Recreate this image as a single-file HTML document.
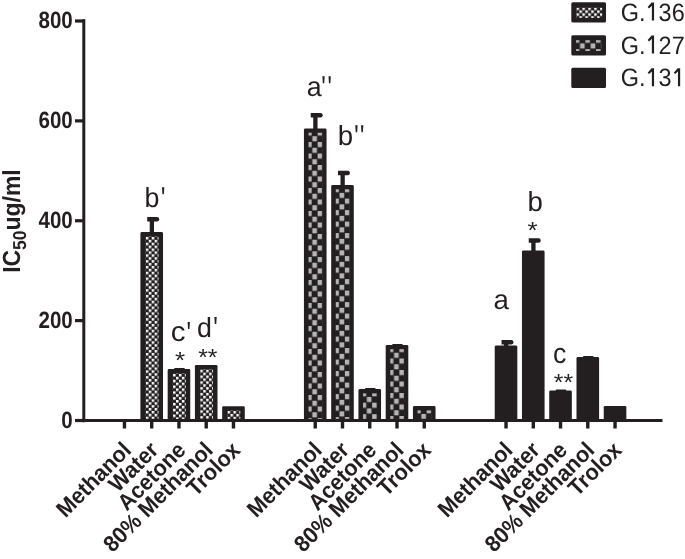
<!DOCTYPE html>
<html><head><meta charset="utf-8"><style>
html,body{margin:0;padding:0;background:#fff;}
body{width:685px;height:559px;overflow:hidden;font-family:"Liberation Sans",sans-serif;}
svg{display:block;will-change:transform;}
text{text-rendering:geometricPrecision;}
</style></head><body>
<svg width="685" height="559" viewBox="0 0 685 559">
<defs>
<pattern id="p136" patternUnits="userSpaceOnUse" width="5.9" height="5.8"><rect width="5.9" height="5.8" fill="#231f20"/><rect x="0" y="0" width="2.5" height="2.5" fill="#fff"/><rect x="2.95" y="2.9" width="2.5" height="2.5" fill="#fff"/></pattern>
<pattern id="p127" patternUnits="userSpaceOnUse" width="10.6" height="11.5"><rect width="10.6" height="11.5" fill="#231f20"/><rect x="0" y="0" width="4.6" height="5.1" fill="#b5b5b5"/><rect x="5.3" y="5.75" width="4.6" height="5.1" fill="#b5b5b5"/></pattern>
</defs>
<rect width="685" height="559" fill="#fff"/>
<rect x="140.41" y="232.10" width="22.60" height="188.40" rx="1.4" fill="#231f20"/>
<g transform="translate(145.81,236.95)"><rect x="-0.20" y="-0.55" width="12.90" height="182.50" fill="url(#p136)"/></g>
<rect x="167.66" y="369.10" width="22.60" height="51.40" rx="1.4" fill="#231f20"/>
<g transform="translate(173.06,373.95)"><rect x="-0.20" y="-0.55" width="12.90" height="45.50" fill="url(#p136)"/></g>
<rect x="194.91" y="364.90" width="22.60" height="55.60" rx="1.4" fill="#231f20"/>
<g transform="translate(200.31,369.75)"><rect x="-0.20" y="-0.55" width="12.90" height="49.70" fill="url(#p136)"/></g>
<rect x="222.17" y="406.20" width="22.60" height="14.30" rx="1.4" fill="#231f20"/>
<g transform="translate(227.57,411.05)"><rect x="-0.20" y="-0.55" width="12.90" height="8.40" fill="url(#p136)"/></g>
<rect x="303.94" y="128.40" width="22.60" height="292.10" rx="1.4" fill="#231f20"/>
<g transform="translate(307.04,130.50)"><rect x="1.50" y="2.20" width="13.80" height="286.20" fill="url(#p127)"/></g>
<rect x="331.19" y="185.00" width="22.60" height="235.50" rx="1.4" fill="#231f20"/>
<g transform="translate(334.29,187.10)"><rect x="1.50" y="2.20" width="13.80" height="229.60" fill="url(#p127)"/></g>
<rect x="358.44" y="389.10" width="22.60" height="31.40" rx="1.4" fill="#231f20"/>
<g transform="translate(361.55,391.20)"><rect x="1.50" y="2.20" width="13.80" height="25.50" fill="url(#p127)"/></g>
<rect x="385.70" y="344.90" width="22.60" height="75.60" rx="1.4" fill="#231f20"/>
<g transform="translate(388.80,347.00)"><rect x="1.50" y="2.20" width="13.80" height="69.70" fill="url(#p127)"/></g>
<rect x="412.95" y="406.10" width="22.60" height="14.40" rx="1.4" fill="#231f20"/>
<g transform="translate(416.06,408.20)"><rect x="1.50" y="2.20" width="13.80" height="8.50" fill="url(#p127)"/></g>
<rect x="494.72" y="345.50" width="22.60" height="75.00" rx="1.4" fill="#231f20"/>
<rect x="521.98" y="250.50" width="22.60" height="170.00" rx="1.4" fill="#231f20"/>
<rect x="549.23" y="390.60" width="22.60" height="29.90" rx="1.4" fill="#231f20"/>
<rect x="576.49" y="357.10" width="22.60" height="63.40" rx="1.4" fill="#231f20"/>
<rect x="603.74" y="405.90" width="22.60" height="14.60" rx="1.4" fill="#231f20"/>
<rect x="149.71" y="218.00" width="4.3" height="15.10" fill="#231f20"/>
<path d="M147.21 217.00 h9.70 a2.25 2.25 0 0 1 0 4.5 h-9.70 z" fill="#231f20"/>
<rect x="313.24" y="114.10" width="4.3" height="15.30" fill="#231f20"/>
<path d="M310.74 113.10 h9.70 a2.25 2.25 0 0 1 0 4.5 h-9.70 z" fill="#231f20"/>
<rect x="340.49" y="171.80" width="4.3" height="14.20" fill="#231f20"/>
<path d="M337.99 170.80 h9.70 a2.25 2.25 0 0 1 0 4.5 h-9.70 z" fill="#231f20"/>
<rect x="504.02" y="341.10" width="4.3" height="5.40" fill="#231f20"/>
<path d="M501.52 340.10 h9.70 a2.25 2.25 0 0 1 0 4.5 h-9.70 z" fill="#231f20"/>
<rect x="531.27" y="239.30" width="4.3" height="12.20" fill="#231f20"/>
<path d="M528.77 238.30 h9.70 a2.25 2.25 0 0 1 0 4.5 h-9.70 z" fill="#231f20"/>
<rect x="174.26" y="367.90" width="10.4" height="2.20" rx="0.6" fill="#231f20"/>
<rect x="365.05" y="387.90" width="10.4" height="2.20" rx="0.6" fill="#231f20"/>
<rect x="392.30" y="343.90" width="10.4" height="2.00" rx="0.6" fill="#231f20"/>
<rect x="555.83" y="389.50" width="10.4" height="2.10" rx="0.6" fill="#231f20"/>
<rect x="583.08" y="356.00" width="10.4" height="2.10" rx="0.6" fill="#231f20"/>
<rect x="82.3" y="19.2" width="3" height="403" fill="#231f20"/>
<rect x="75" y="418.90" width="9" height="3.2" fill="#231f20"/>
<rect x="75" y="319.02" width="9" height="3.2" fill="#231f20"/>
<rect x="75" y="219.15" width="9" height="3.2" fill="#231f20"/>
<rect x="75" y="119.28" width="9" height="3.2" fill="#231f20"/>
<rect x="75" y="19.40" width="9" height="3.2" fill="#231f20"/>
<rect x="75" y="419.00" width="587.5" height="3" fill="#231f20"/>
<rect x="122.75" y="420.50" width="3.4" height="8" fill="#231f20"/>
<rect x="150.01" y="420.50" width="3.4" height="8" fill="#231f20"/>
<rect x="177.26" y="420.50" width="3.4" height="8" fill="#231f20"/>
<rect x="204.52" y="420.50" width="3.4" height="8" fill="#231f20"/>
<rect x="231.77" y="420.50" width="3.4" height="8" fill="#231f20"/>
<rect x="313.54" y="420.50" width="3.4" height="8" fill="#231f20"/>
<rect x="340.79" y="420.50" width="3.4" height="8" fill="#231f20"/>
<rect x="368.05" y="420.50" width="3.4" height="8" fill="#231f20"/>
<rect x="395.30" y="420.50" width="3.4" height="8" fill="#231f20"/>
<rect x="422.56" y="420.50" width="3.4" height="8" fill="#231f20"/>
<rect x="504.32" y="420.50" width="3.4" height="8" fill="#231f20"/>
<rect x="531.57" y="420.50" width="3.4" height="8" fill="#231f20"/>
<rect x="558.83" y="420.50" width="3.4" height="8" fill="#231f20"/>
<rect x="586.08" y="420.50" width="3.4" height="8" fill="#231f20"/>
<rect x="613.34" y="420.50" width="3.4" height="8" fill="#231f20"/>
<text transform="translate(72.80,427.80) scale(0.980,1.120)" font-family="Liberation Sans" font-size="21.00" font-weight="bold" text-anchor="end" fill="#231f20">0</text>
<text transform="translate(72.80,327.93) scale(0.980,1.120)" font-family="Liberation Sans" font-size="21.00" font-weight="bold" text-anchor="end" fill="#231f20">200</text>
<text transform="translate(72.80,228.05) scale(0.980,1.120)" font-family="Liberation Sans" font-size="21.00" font-weight="bold" text-anchor="end" fill="#231f20">400</text>
<text transform="translate(72.80,128.18) scale(0.980,1.120)" font-family="Liberation Sans" font-size="21.00" font-weight="bold" text-anchor="end" fill="#231f20">600</text>
<text transform="translate(72.80,28.30) scale(0.980,1.120)" font-family="Liberation Sans" font-size="21.00" font-weight="bold" text-anchor="end" fill="#231f20">800</text>
<g transform="translate(20.4,272.8) rotate(-90)">
<text transform="scale(1,1.080)" font-family="Liberation Sans" font-weight="bold" font-size="22.90" fill="#231f20">IC</text>
<text transform="translate(22.90,5.3) scale(1,1.07)" font-family="Liberation Sans" font-weight="bold" font-size="17.50" fill="#231f20">50</text>
<text transform="translate(42.37,0) scale(1,1.080)" font-family="Liberation Sans" font-weight="bold" font-size="22.90" fill="#231f20">ug/ml</text>
</g>
<text transform="translate(132.45,451.40) rotate(-45) scale(1.000,1.050)" font-family="Liberation Sans" font-size="21.60" font-weight="bold" text-anchor="end" fill="#231f20">Methanol</text>
<text transform="translate(159.71,451.40) rotate(-45) scale(1.000,1.050)" font-family="Liberation Sans" font-size="21.60" font-weight="bold" text-anchor="end" fill="#231f20">Water</text>
<text transform="translate(186.96,451.40) rotate(-45) scale(1.000,1.050)" font-family="Liberation Sans" font-size="21.60" font-weight="bold" text-anchor="end" fill="#231f20">Acetone</text>
<text transform="translate(214.22,451.40) rotate(-45) scale(1.000,1.050)" font-family="Liberation Sans" font-size="21.60" font-weight="bold" text-anchor="end" fill="#231f20">80% Methanol</text>
<text transform="translate(241.47,451.40) rotate(-45) scale(1.000,1.050)" font-family="Liberation Sans" font-size="21.60" font-weight="bold" text-anchor="end" fill="#231f20">Trolox</text>
<text transform="translate(323.24,451.40) rotate(-45) scale(1.000,1.050)" font-family="Liberation Sans" font-size="21.60" font-weight="bold" text-anchor="end" fill="#231f20">Methanol</text>
<text transform="translate(350.49,451.40) rotate(-45) scale(1.000,1.050)" font-family="Liberation Sans" font-size="21.60" font-weight="bold" text-anchor="end" fill="#231f20">Water</text>
<text transform="translate(377.75,451.40) rotate(-45) scale(1.000,1.050)" font-family="Liberation Sans" font-size="21.60" font-weight="bold" text-anchor="end" fill="#231f20">Acetone</text>
<text transform="translate(405.00,451.40) rotate(-45) scale(1.000,1.050)" font-family="Liberation Sans" font-size="21.60" font-weight="bold" text-anchor="end" fill="#231f20">80% Methanol</text>
<text transform="translate(432.25,451.40) rotate(-45) scale(1.000,1.050)" font-family="Liberation Sans" font-size="21.60" font-weight="bold" text-anchor="end" fill="#231f20">Trolox</text>
<text transform="translate(514.02,451.40) rotate(-45) scale(1.000,1.050)" font-family="Liberation Sans" font-size="21.60" font-weight="bold" text-anchor="end" fill="#231f20">Methanol</text>
<text transform="translate(541.27,451.40) rotate(-45) scale(1.000,1.050)" font-family="Liberation Sans" font-size="21.60" font-weight="bold" text-anchor="end" fill="#231f20">Water</text>
<text transform="translate(568.53,451.40) rotate(-45) scale(1.000,1.050)" font-family="Liberation Sans" font-size="21.60" font-weight="bold" text-anchor="end" fill="#231f20">Acetone</text>
<text transform="translate(595.78,451.40) rotate(-45) scale(1.000,1.050)" font-family="Liberation Sans" font-size="21.60" font-weight="bold" text-anchor="end" fill="#231f20">80% Methanol</text>
<text transform="translate(623.04,451.40) rotate(-45) scale(1.000,1.050)" font-family="Liberation Sans" font-size="21.60" font-weight="bold" text-anchor="end" fill="#231f20">Trolox</text>
<text transform="translate(144.50,206.50) scale(1.000,1.030)" font-family="Liberation Sans" font-size="26.80" fill="#231f20">b</text>
<path d="M162.00 187.20h2.30l-0.45 7.00h-1.40z" fill="#231f20"/>
<text transform="translate(170.80,341.40) scale(1.100,1.040)" font-family="Liberation Sans" font-size="26.80" fill="#231f20">c</text>
<path d="M187.60 321.90h2.30l-0.45 7.00h-1.40z" fill="#231f20"/>
<text transform="translate(196.90,336.80) scale(1.000,1.030)" font-family="Liberation Sans" font-size="26.80" fill="#231f20">d</text>
<path d="M214.40 317.00h2.30l-0.45 7.00h-1.40z" fill="#231f20"/>
<text transform="translate(306.70,96.00) scale(1.000,1.030)" font-family="Liberation Sans" font-size="26.80" fill="#231f20">a</text>
<path d="M322.40 76.30h2.30l-0.45 7.00h-1.40z" fill="#231f20"/>
<path d="M328.50 76.30h2.30l-0.45 7.00h-1.40z" fill="#231f20"/>
<text transform="translate(337.80,145.10) scale(1.030,1.030)" font-family="Liberation Sans" font-size="26.80" fill="#231f20">b</text>
<path d="M355.30 125.30h2.30l-0.45 7.00h-1.40z" fill="#231f20"/>
<path d="M361.00 125.30h2.30l-0.45 7.00h-1.40z" fill="#231f20"/>
<text transform="translate(493.60,309.00) scale(1.030,1.030)" font-family="Liberation Sans" font-size="26.80" fill="#231f20">a</text>
<text transform="translate(527.40,210.80) scale(1.030,1.030)" font-family="Liberation Sans" font-size="26.80" fill="#231f20">b</text>
<text transform="translate(553.00,362.50) scale(1.000,1.050)" font-family="Liberation Sans" font-size="26.80" fill="#231f20">c</text>
<text transform="translate(175.10,367.90) scale(1.000,0.890)" font-family="Liberation Sans" font-size="26.00" fill="#231f20">*</text>
<text transform="translate(198.20,365.10) scale(0.950,0.890)" font-family="Liberation Sans" font-size="26.00" fill="#231f20">**</text>
<text transform="translate(527.50,237.90) scale(1.000,0.890)" font-family="Liberation Sans" font-size="26.00" fill="#231f20">*</text>
<text transform="translate(553.80,390.40) scale(0.950,0.890)" font-family="Liberation Sans" font-size="26.00" fill="#231f20">**</text>
<rect x="571.3" y="2.20" width="34.7" height="20.3" rx="1.5" fill="#231f20"/>
<g transform="translate(576.5,7.55)"><rect x="-0.2" y="0.15" width="25.9" height="10.2" fill="url(#p136)"/></g>
<text transform="translate(620.80,20.60) scale(1.020,1.094)" font-family="Liberation Sans" font-size="23.00" fill="#231f20">G.</text>
<path d="M654.07 2.58 L654.07 20.60 L651.87 20.60 L651.87 5.78 L649.07 8.38 L647.67 7.08 L651.57 2.58 Z" fill="#231f20"/>
<text transform="translate(658.62,20.60) scale(1.020,1.094)" font-family="Liberation Sans" font-size="23.00" fill="#231f20">36</text>
<rect x="571.3" y="35.20" width="34.7" height="20.3" rx="1.5" fill="#231f20"/>
<g transform="translate(574.75,37.65)"><rect x="1.25" y="2.55" width="25.3" height="10.8" fill="url(#p127)"/></g>
<text transform="translate(620.80,53.60) scale(1.020,1.094)" font-family="Liberation Sans" font-size="23.00" fill="#231f20">G.</text>
<path d="M654.07 35.58 L654.07 53.60 L651.87 53.60 L651.87 38.78 L649.07 41.38 L647.67 40.08 L651.57 35.58 Z" fill="#231f20"/>
<text transform="translate(658.62,53.60) scale(1.020,1.094)" font-family="Liberation Sans" font-size="23.00" fill="#231f20">27</text>
<rect x="571.3" y="67.80" width="34.7" height="20.3" rx="1.5" fill="#231f20"/>
<text transform="translate(620.80,86.20) scale(1.020,1.094)" font-family="Liberation Sans" font-size="23.00" fill="#231f20">G.</text>
<path d="M654.07 68.18 L654.07 86.20 L651.87 86.20 L651.87 71.38 L649.07 73.98 L647.67 72.68 L651.57 68.18 Z" fill="#231f20"/>
<text transform="translate(658.62,86.20) scale(1.020,1.094)" font-family="Liberation Sans" font-size="23.00" fill="#231f20">3</text>
<path d="M680.16 68.18 L680.16 86.20 L677.96 86.20 L677.96 71.38 L675.16 73.98 L673.76 72.68 L677.66 68.18 Z" fill="#231f20"/>
</svg>
</body></html>
